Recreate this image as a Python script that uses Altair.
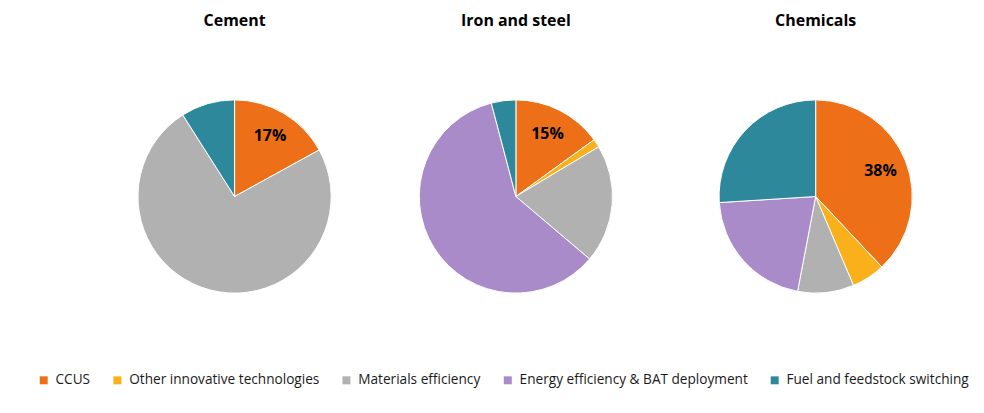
import altair as alt
import pandas as pd

sectors = ["Cement", "Iron and steel", "Chemicals"]
categories = [
    "CCUS",
    "Other innovative technologies",
    "Materials efficiency",
    "Energy efficiency & BAT deployment",
    "Fuel and feedstock switching",
]
cement = [17, 0, 74, 0, 9]
iron_steel = [15, 1.4, 19.8, 59.7, 4.1]
chemicals = [38, 5.6, 9.4, 21, 26]
colors = ["#ED6F17", "#F9B01A", "#B0B1B0", "#A88BC8", "#2E889C"]

series = {"Cement": cement, "Iron and steel": iron_steel, "Chemicals": chemicals}

rows = []
for s in sectors:
    for i, (c, v) in enumerate(zip(categories, series[s])):
        rows.append({"sector": s, "category": c, "value": v, "idx": i})
df = pd.DataFrame(rows)

FONT = "Open Sans"
RADIUS = 97
H = 329

color = alt.Color(
    "category:N",
    scale=alt.Scale(domain=categories, range=colors),
    legend=alt.Legend(
        orient="none",
        legendX=26,
        legendY=342,
        direction="horizontal",
        title=None,
        symbolType="square",
        symbolSize=64,
        symbolStrokeWidth=0,
        labelFont=FONT,
        labelFontSize=13.7,
        labelColor="#1a1a1a",
        labelOffset=5,
        labelLimit=0,
        columnPadding=20,
        columns=5,
    ),
)


def pie(sector, w):
    base = alt.Chart(df).transform_filter(alt.datum.sector == sector)
    arcs = base.transform_filter(alt.datum.value > 0).mark_arc(
        radius=RADIUS, stroke="white", strokeWidth=1
    ).encode(
        theta=alt.Theta("value:Q", stack=True, scale=alt.Scale(domain=[0, 100])),
        color=color,
        order=alt.Order("idx:Q"),
    )
    labels = base.transform_calculate(
        label="datum.category == 'CCUS' ? format(datum.value, '.0f') + '%' : ''"
    ).mark_text(
        radius=70, font=FONT, fontSize=16, fontWeight="bold", color="black"
    ).encode(
        theta=alt.Theta("value:Q", stack=True, scale=alt.Scale(domain=[0, 100])),
        order=alt.Order("idx:Q"),
        text="label:N",
    )
    return alt.layer(arcs, labels).properties(
        width=w,
        height=H,
        title=alt.TitleParams(
            sector, font=FONT, fontSize=16, fontWeight="bold", color="black",
            anchor="middle", offset=4,
        ),
    )


spacer = alt.Chart(df).mark_point(opacity=0).encode(
    x=alt.X("idx:Q", axis=None), y=alt.Y("idx:Q", axis=None)
).properties(width=79, height=H)

chart = alt.hconcat(
    spacer, pie("Cement", 285), pie("Iron and steel", 280), pie("Chemicals", 322), spacing=0
).properties(
    padding={"left": 0, "top": 4, "right": 0, "bottom": 0},
    background="white",
).configure_view(stroke=None)

chart.save("out.html", embed_options={"renderer": "svg", "actions": False})
